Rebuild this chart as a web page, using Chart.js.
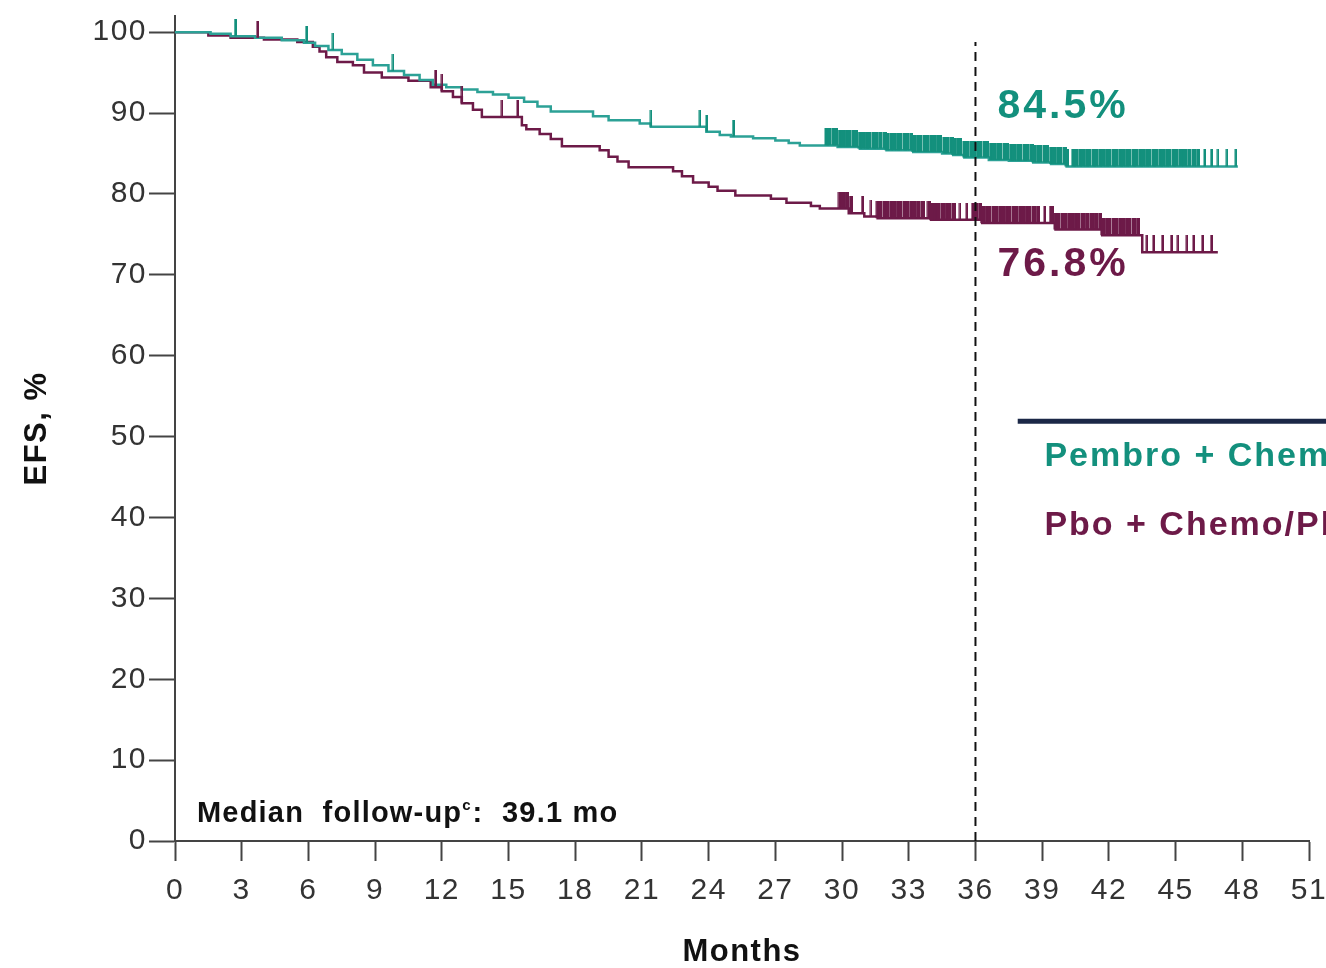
<!DOCTYPE html>
<html>
<head>
<meta charset="utf-8">
<script src="https://cdn.jsdelivr.net/npm/chart.js@4.4.0/dist/chart.umd.min.js"></script>
<style>
  html, body { margin: 0; padding: 0; background: #fff; }
  #efsChart { display: block; }
</style>
</head>
<body>
<canvas id="efsChart" width="1326" height="968"></canvas>
<script>
var FONT = '"Liberation Sans", Arial, sans-serif';
var TEAL = '#13907d';
var TEAL_LINE = '#2ca196';
var MAROON = '#6d1a48';

var monthTicks = [0, 3, 6, 9, 12, 15, 18, 21, 24, 27, 30, 33, 36, 39, 42, 45, 48, 51];
var efsTicks = [0, 10, 20, 30, 40, 50, 60, 70, 80, 90, 100];
var seriesNames = ['Pembro + Chemo/Pembro', 'Pbo + Chemo/Pbo'];
var landmarkMonth = 36;
var landmarkLabels = ['84.5%', '76.8%'];

// Kaplan-Meier steps: value after each event time
var pembroTimes = [0, 1.6, 2.5, 3.6, 4.8, 5.8, 6.3, 6.9, 7.5, 8.2, 8.9, 9.6, 10.3, 11.0, 11.6, 12.2, 12.9,
  13.6, 14.3, 15.0, 15.7, 16.3, 16.9, 18.8, 19.5, 20.9, 21.4, 23.9, 24.5, 25.0, 26.0, 27.0, 27.6, 28.1,
  29.8, 30.8, 32.0, 33.2, 34.5, 35.0, 35.5, 36.6, 37.5, 38.6, 39.4, 40.1, 47.8];
var pembroEFS = [100, 99.8, 99.5, 99.3, 99.0, 98.7, 98.3, 97.8, 97.3, 96.6, 95.9, 95.2, 94.7, 94.1, 93.5, 93.2, 92.9,
  92.6, 92.3, 91.9, 91.4, 90.8, 90.2, 89.6, 89.1, 88.7, 88.3, 87.7, 87.3, 87.1, 86.9, 86.6, 86.3, 86.0,
  85.8, 85.6, 85.4, 85.2, 85.0, 84.8, 84.5, 84.2, 84.1, 83.9, 83.7, 83.4, 83.4];

var pboTimes = [0, 1.5, 2.5, 4.0, 5.5, 6.2, 6.5, 6.8, 7.3, 8.0, 8.5, 9.3, 10.5, 11.5, 12.0, 12.5, 12.9, 13.4,
  13.8, 15.6, 15.8, 16.4, 16.9, 17.4, 19.1, 19.5, 19.9, 20.4, 22.4, 22.8, 23.3, 24.0, 24.4, 25.2, 26.8,
  27.5, 28.6, 29.0, 30.3, 31.0, 31.6, 34.0, 36.3, 39.6, 41.7, 43.5, 46.9];
var pboEFS = [100, 99.6, 99.3, 99.1, 98.8, 98.2, 97.6, 96.9, 96.3, 95.9, 95.0, 94.4, 94.0, 93.2, 92.7, 92.0, 91.2, 90.4,
  89.5, 88.5, 88.0, 87.4, 86.8, 85.9, 85.4, 84.6, 84.0, 83.3, 82.8, 82.2, 81.4, 80.9, 80.4, 79.8, 79.4,
  78.9, 78.5, 78.2, 77.6, 77.2, 77.0, 76.8, 76.4, 75.6, 74.9, 72.8, 72.8];

// censoring times (months)
var pembroCensored = [2.7, 5.9, 7.1, 9.8, 21.4, 23.6, 23.9, 25.1,
  29.3, 29.4, 29.6, 29.7, 29.9, 30.0, 30.2, 30.3, 30.5, 30.6, 30.8, 30.9, 31.1, 31.2, 31.4, 31.5, 31.7,
  31.9, 32.0, 32.2, 32.3, 32.5, 32.6, 32.8, 32.9, 33.1, 33.2, 33.4, 33.5, 33.7, 33.8, 34.0, 34.1, 34.3,
  34.4, 34.6, 34.7, 34.9, 35.0, 35.2, 35.3, 35.5, 35.6, 35.8, 35.9, 36.1, 36.2, 36.4, 36.5, 36.7, 36.8,
  37.0, 37.1, 37.3, 37.4, 37.6, 37.7, 37.9, 38.0, 38.2, 38.3, 38.5, 38.6, 38.8, 38.9, 39.1, 39.2, 39.4,
  39.5, 39.7, 39.8, 40.0, 40.1, 40.4, 40.5, 40.7, 40.8, 41.0, 41.1, 41.3, 41.4, 41.6, 41.7, 41.9, 42.0,
  42.2, 42.3, 42.5, 42.6, 42.8, 42.9, 43.1, 43.2, 43.4, 43.5, 43.7, 43.8, 44.0, 44.1, 44.3, 44.4, 44.6,
  44.7, 44.9, 45.0, 45.2, 45.4, 45.6, 45.8, 46.0, 46.3, 46.6, 46.9, 47.3, 47.7];
var pboCensored = [3.7, 11.7, 12.0, 12.9, 14.7, 15.4,
  29.9, 30.0, 30.2, 30.4, 30.9, 31.3, 31.6, 31.7, 31.9, 32.0, 32.2, 32.3, 32.5, 32.6, 32.8, 32.9, 33.1,
  33.2, 33.4, 33.6, 33.9, 34.0, 34.2, 34.3, 34.5, 34.7, 34.8, 35.0, 35.3, 35.6, 35.9, 36.0, 36.2, 36.3,
  36.5, 36.6, 36.8, 36.9, 37.1, 37.2, 37.4, 37.5, 37.7, 37.8, 38.0, 38.1, 38.3, 38.4, 38.6, 38.8, 39.1,
  39.4, 39.6, 39.7, 39.9, 40.0, 40.2, 40.3, 40.5, 40.6, 40.8, 41.0, 41.2, 41.4, 41.6, 41.7, 41.9, 42.0,
  42.2, 42.3, 42.5, 42.6, 42.8, 42.9, 43.1, 43.3, 43.7, 44.0, 44.4, 44.8, 45.1, 45.5, 45.8, 46.2, 46.6];

function stepValue(times, values, t) {
  var v = values[0];
  for (var i = 0; i < times.length; i++) {
    if (times[i] <= t) v = values[i];
  }
  return v;
}

function curvePoints(times, values) {
  return times.map(function (t, i) { return { x: t, y: values[i] }; });
}

function censorPoints(censored, times, values) {
  return censored.map(function (t) { return { x: t, y: stepValue(times, values, t) }; });
}

// vertical censor mark sitting on top of the curve
function tickImage(color, w) {
  var c = document.createElement('canvas');
  c.width = w + 1;
  c.height = 34;
  var g = c.getContext('2d');
  g.fillStyle = color;
  g.fillRect(0.5, 0, w, 17);
  return c;
}

// crowded censor marks merge into a solid band, lone ones stay thin
function censorStyle(censored, color) {
  var thin = tickImage(color, 2.5);
  var wide = tickImage(color, 4.5);
  return function (c) {
    var t = censored[c.dataIndex];
    var prev = censored[c.dataIndex - 1];
    var next = censored[c.dataIndex + 1];
    var crowded = (prev !== undefined && t - prev < 0.25) || (next !== undefined && next - t < 0.25);
    return crowded ? wide : thin;
  };
}

// the source figure is a little wider than tall, so spread the letters a bit
var textSpacing = {
  id: 'textSpacing',
  beforeDraw: function (chart) {
    chart.ctx.letterSpacing = '1.5px';
  }
};

var annotations = {
  id: 'annotations',
  afterDatasetsDraw: function (chart) {
    var ctx = chart.ctx;
    var x = chart.scales.x;
    var y = chart.scales.y;
    var area = chart.chartArea;
    ctx.save();
    ctx.textAlign = 'left';
    ctx.textBaseline = 'middle';

    ctx.font = 'bold 41px ' + FONT;
    ctx.letterSpacing = '3px';
    ctx.fillStyle = TEAL;
    ctx.fillText(landmarkLabels[0], x.getPixelForValue(landmarkMonth) + 22, y.getPixelForValue(90.8));
    ctx.fillStyle = MAROON;
    ctx.fillText(landmarkLabels[1], x.getPixelForValue(landmarkMonth) + 22, y.getPixelForValue(71.3));

    // legend
    ctx.strokeStyle = '#1b2847';
    ctx.lineWidth = 5;
    ctx.beginPath();
    ctx.moveTo(x.getPixelForValue(37.9), y.getPixelForValue(51.9));
    ctx.lineTo(chart.width, y.getPixelForValue(51.9));
    ctx.stroke();
    ctx.font = 'bold 34px ' + FONT;
    ctx.letterSpacing = '2px';
    ctx.fillStyle = TEAL;
    ctx.fillText(seriesNames[0], x.getPixelForValue(39.1), y.getPixelForValue(47.5));
    ctx.fillStyle = MAROON;
    ctx.fillText(seriesNames[1], x.getPixelForValue(39.1), y.getPixelForValue(39.0));

    // median follow-up note
    var tx = area.left + 22;
    var ty = area.bottom - 27;
    ctx.fillStyle = '#111';
    ctx.letterSpacing = '1.2px';
    ctx.font = 'bold 29px ' + FONT;
    var part1 = 'Median  follow-up';
    ctx.fillText(part1, tx, ty);
    tx += ctx.measureText(part1).width;
    ctx.font = 'bold 15px ' + FONT;
    ctx.letterSpacing = '0px';
    ctx.fillText('c', tx, ty - 8);
    tx += ctx.measureText('c').width + 2;
    ctx.font = 'bold 29px ' + FONT;
    ctx.letterSpacing = '1.2px';
    ctx.fillText(':  39.1 mo', tx, ty);
    ctx.restore();
  }
};

var ctx = document.getElementById('efsChart').getContext('2d');
var efsChart = new Chart(ctx, {
  type: 'scatter',
  data: {
    datasets: [
      {
        label: 'Landmark',
        data: [{ x: landmarkMonth, y: 0 }, { x: landmarkMonth, y: 98.8 }],
        showLine: true,
        borderColor: '#111',
        borderWidth: 2,
        borderDash: [9, 6],
        pointRadius: 0
      },
      {
        label: seriesNames[0] + ' censored',
        data: censorPoints(pembroCensored, pembroTimes, pembroEFS),
        showLine: false,
        pointStyle: censorStyle(pembroCensored, TEAL),
        pointRadius: 2
      },
      {
        label: seriesNames[1] + ' censored',
        data: censorPoints(pboCensored, pboTimes, pboEFS),
        showLine: false,
        pointStyle: censorStyle(pboCensored, MAROON),
        pointRadius: 2
      },
      {
        label: seriesNames[0],
        data: curvePoints(pembroTimes, pembroEFS),
        showLine: true,
        stepped: true,
        borderColor: TEAL_LINE,
        borderWidth: 2.5,
        pointRadius: 0
      },
      {
        label: seriesNames[1],
        data: curvePoints(pboTimes, pboEFS),
        showLine: true,
        stepped: true,
        borderColor: MAROON,
        borderWidth: 2.5,
        pointRadius: 0
      }
    ]
  },
  options: {
    responsive: false,
    animation: false,
    layout: { padding: { left: 0, right: 17, top: 16, bottom: 0 } },
    scales: {
      x: {
        type: 'linear',
        min: 0,
        max: 51,
        afterBuildTicks: function (axis) {
          axis.ticks = monthTicks.map(function (v) { return { value: v }; });
        },
        afterFit: function (axis) {
          axis.height = 127;
          axis.paddingLeft = 0;
          axis.paddingRight = 0;
        },
        ticks: { font: { family: FONT, size: 30 }, color: '#333', padding: 12, maxRotation: 0, autoSkip: false },
        grid: { drawOnChartArea: false, drawTicks: true, tickLength: 20, tickWidth: 2, tickColor: '#444' },
        border: { display: true, color: '#444', width: 2 },
        title: {
          display: true,
          text: 'Months',
          color: '#111',
          font: { family: FONT, size: 31, weight: 'bold', lineHeight: 1 },
          padding: { top: 0, bottom: 0 }
        }
      },
      y: {
        min: 0,
        max: 102,
        afterBuildTicks: function (axis) {
          axis.ticks = efsTicks.map(function (v) { return { value: v }; });
        },
        afterFit: function (axis) {
          axis.width = 175;
          axis.paddingTop = 0;
          axis.paddingBottom = 0;
        },
        ticks: { font: { family: FONT, size: 30 }, color: '#333', padding: 2 },
        grid: { drawOnChartArea: false, drawTicks: true, tickLength: 26, tickWidth: 2, tickColor: '#444' },
        border: { display: true, color: '#444', width: 2 },
        title: {
          display: true,
          text: 'EFS, %',
          color: '#111',
          font: { family: FONT, size: 31, weight: 'bold', lineHeight: 1 },
          padding: { top: 22, bottom: 0 }
        }
      }
    },
    plugins: {
      legend: { display: false },
      tooltip: { enabled: false }
    }
  },
  plugins: [textSpacing, annotations]
});
</script>
</body>
</html>
